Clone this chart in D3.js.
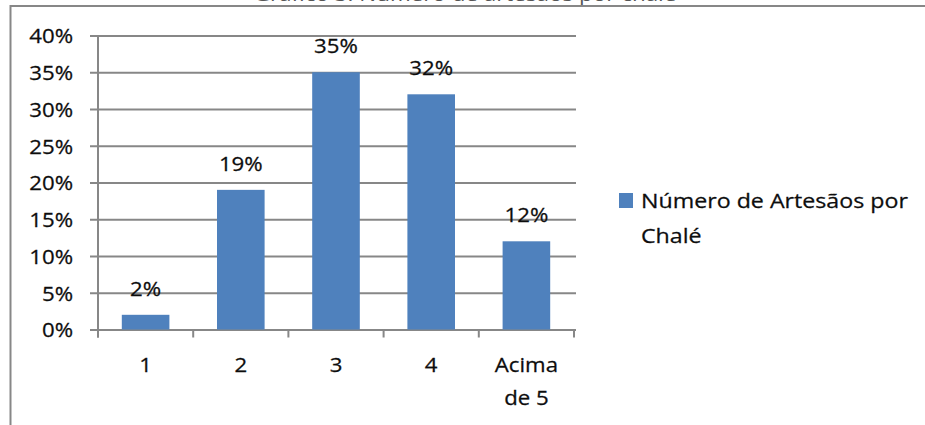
<!DOCTYPE html>
<html>
<head>
<meta charset="utf-8">
<script src="https://cdn.jsdelivr.net/npm/d3@7"></script>
<style>
  html, body { margin: 0; padding: 0; background: #fff; }
  svg { display: block; }
  text { font-family: "Open Sans", "Noto Sans", sans-serif; fill: #0d0d0d; stroke: #0d0d0d; stroke-width: 0.25px; }
</style>
</head>
<body>
<svg id="chart" width="925" height="425"></svg>
<script>
// Chart data
const categories = ["1", "2", "3", "4", "Acima de 5"];
const values = [0.02, 0.19, 0.35, 0.32, 0.12];
const valueLabels = ["2%", "19%", "35%", "32%", "12%"];
const yTicks = [0, 0.05, 0.10, 0.15, 0.20, 0.25, 0.30, 0.35, 0.40];
const yTickLabels = ["0%", "5%", "10%", "15%", "20%", "25%", "30%", "35%", "40%"];
const seriesName = ["Número de Artesãos por", "Chalé"];
const title = "Gráfico 3: Número de artesãos por chalé";

const svg = d3.select("#chart");
const FS = 19.5;        // font size
const SX = 1.14;        // horizontal glyph stretch
const GRID = "#878787";
const BAR = "#4F81BD";

// helper: stretched text placed at (x, y)
function label(g, x, y, str, anchor, size, sx) {
  return g.append("text")
    .attr("transform", `translate(${x},${y}) scale(${sx || SX},1)`)
    .attr("text-anchor", anchor || "middle")
    .style("font-size", (size || FS) + "px")
    .text(str);
}

// outer frame (top and left edges)
svg.append("line").attr("x1", 10).attr("x2", 925).attr("y1", 6).attr("y2", 6)
  .attr("stroke", GRID).attr("stroke-width", 2);
svg.append("line").attr("x1", 10.5).attr("x2", 10.5).attr("y1", 5).attr("y2", 425)
  .attr("stroke", GRID).attr("stroke-width", 2);

// title, sitting mostly above the frame
label(svg, 465, 0.5, title, "middle", 19, 1.18).style("stroke", "none").style("fill", "#555");

// scales
const plot = { left: 98, right: 574, top: 35.5, bottom: 329.5 };
const x = d3.scaleBand().domain(categories)
  .range([plot.left, plot.right]).paddingInner(0.5).paddingOuter(0.25);
const y = d3.scaleLinear().domain([0, 0.4]).range([plot.bottom, plot.top]);

// horizontal gridlines + y tick labels via axisLeft
const gridRight = 576, gridLeft = 90;
const yAxis = d3.axisLeft(y)
  .tickValues(yTicks)
  .tickFormat((d, i) => yTickLabels[i])
  .tickSizeInner(gridRight - gridLeft)
  .tickSizeOuter(0)
  .tickPadding(17);
const gy = svg.append("g").attr("transform", `translate(${gridRight},0)`).call(yAxis);
gy.select(".domain").remove();
gy.selectAll(".tick line").attr("stroke", GRID).attr("stroke-width", 2);
gy.selectAll(".tick text").each(function () {
  const t = d3.select(this);
  const tx = +t.attr("x");
  t.attr("x", null).attr("dy", null)
    .attr("transform", `translate(${tx},0) scale(${SX},1)`)
    .attr("dominant-baseline", "central")
    .attr("font-family", null).attr("font-size", null).attr("fill", null)
    .style("font-size", FS + "px");
});

// vertical axis line
svg.append("line")
  .attr("x1", plot.left).attr("x2", plot.left)
  .attr("y1", y(0.4)).attr("y2", y(0) + 8)
  .attr("stroke", GRID).attr("stroke-width", 2);

// category tick marks at band boundaries
const step = x.step();
const bounds = d3.range(categories.length + 1).map(i => plot.left + i * step);
svg.append("g").selectAll("line").data(bounds).join("line")
  .attr("x1", d => d).attr("x2", d => d)
  .attr("y1", y(0)).attr("y2", y(0) + 8)
  .attr("stroke", GRID).attr("stroke-width", 2);

// bars
svg.append("g").selectAll("rect").data(values).join("rect")
  .attr("x", (d, i) => x(categories[i]))
  .attr("y", d => y(d))
  .attr("width", x.bandwidth())
  .attr("height", d => y(0) - y(d))
  .attr("fill", BAR);

// value labels
const vl = svg.append("g");
values.forEach((v, i) => {
  label(vl, x(categories[i]) + x.bandwidth() / 2, y(v) - 19, valueLabels[i]);
});

// category labels (wrapped after "Acima")
const cl = svg.append("g");
categories.forEach(c => {
  const cx = x(c) + x.bandwidth() / 2;
  const lines = c === "Acima de 5" ? ["Acima", "de 5"] : [c];
  lines.forEach((ln, j) => label(cl, cx, 372 + j * 33, ln));
});

// legend
const lg = svg.append("g");
lg.append("rect").attr("x", 619).attr("y", 193).attr("width", 14).attr("height", 15).attr("fill", BAR);
seriesName.forEach((ln, j) => label(lg, 641, 208 + j * 34.5, ln, "start", FS, 1.19));
</script>
</body>
</html>
